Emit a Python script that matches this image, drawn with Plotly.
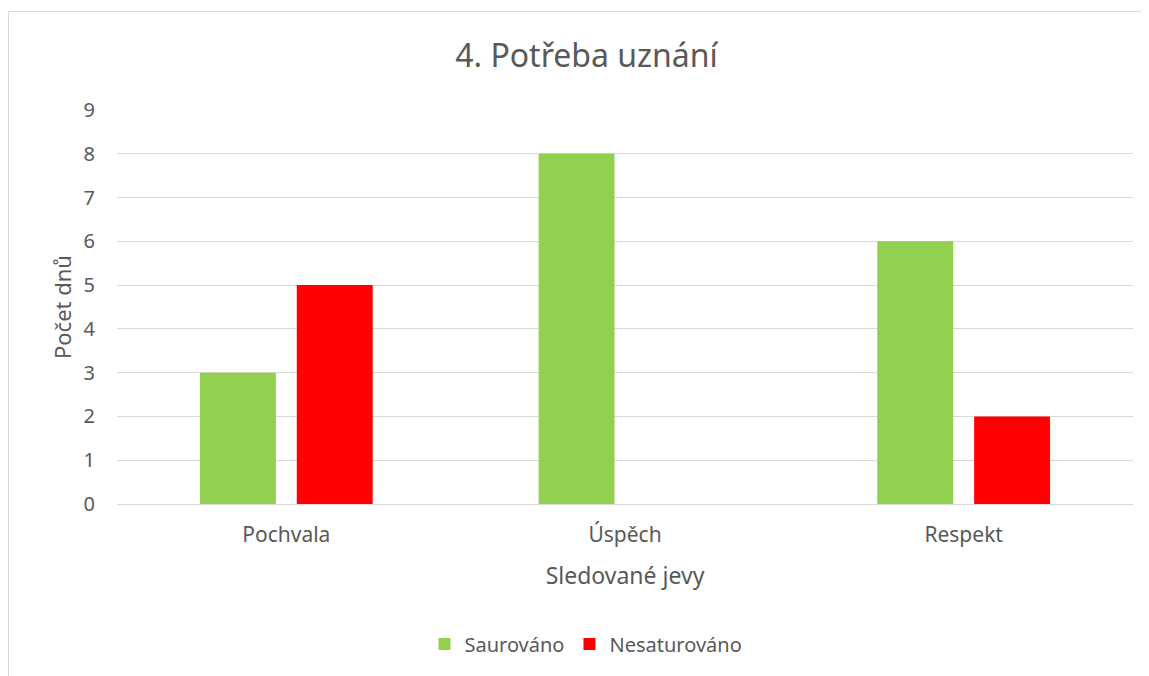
import plotly.graph_objects as go

categories = ["Pochvala", "Úspěch", "Respekt"]
saurovano = [3, 8, 6]
nesaturovano = [5, 0, 2]
series_names = ["Saurováno", "Nesaturováno"]
colors = ["#92d050", "#ff0000"]

# page has 8px body margin; figure sized so it fits the 1149x676 window
W, H = 1141, 668
L, R, T, B = 109, 16, 102, 172
pw, ph = W - L - R, H - T - B

font = "Noto Sans"
txt = "#595959"

fig = go.Figure()
fig.add_trace(go.Bar(x=categories, y=saurovano, name=series_names[0], marker_color=colors[0], marker_line_width=0))
fig.add_trace(go.Bar(x=categories, y=nesaturovano, name=series_names[1], marker_color=colors[1], marker_line_width=0))

fig.update_layout(
    width=W, height=H,
    margin=dict(l=L, r=R, t=T, b=B),
    paper_bgcolor="white", plot_bgcolor="white",
    barmode="group", bargap=0.428, bargroupgap=0.216,
    font=dict(family=font, color=txt),
    title=dict(text="4. Potřeba uznání", x=578.5 / W, xanchor="center", y=1 - 48 / H, yanchor="middle",
               font=dict(size=32, color=txt, family=font)),
    xaxis=dict(showgrid=False, showline=False, ticks="", tickfont=dict(size=21, color=txt),
               ticklabelstandoff=16,
               title=dict(text="Sledované jevy", font=dict(size=23, color=txt), standoff=20)),
    yaxis=dict(range=[0, 9], dtick=1, showgrid=True, gridcolor="#d9d9d9", gridwidth=1,
               zeroline=True, zerolinecolor="#d9d9d9", zerolinewidth=1, showline=False,
               ticks="", tickfont=dict(size=20, color=txt), ticklabelstandoff=21,
               title=dict(text="Počet dnů", font=dict(size=22, color=txt), standoff=5)),
    legend=dict(orientation="h", x=(578 - L) / pw, xanchor="center", y=-140 / ph, yanchor="middle",
                font=dict(size=20, color=txt), itemwidth=30, traceorder="normal"),
    showlegend=True,
)

fig.add_shape(type="rect", xref="paper", yref="paper",
              x0=(0.5 - L) / pw, x1=(W + 5 - L) / pw,
              y0=-(B + 5) / ph, y1=1 + (T - 3.5) / ph,
              line=dict(color="#d9d9d9", width=1), fillcolor="rgba(0,0,0,0)", layer="below")

fig.write_html("out.html")
